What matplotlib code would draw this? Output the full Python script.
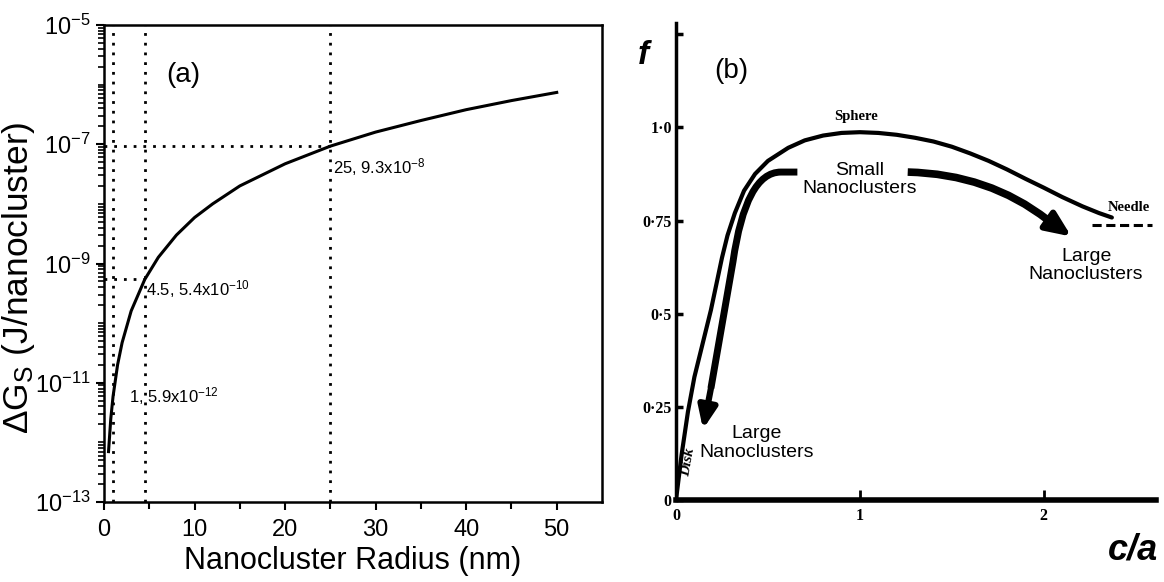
import math
import matplotlib
matplotlib.use("Agg")
import matplotlib.pyplot as plt
from matplotlib.path import Path
from matplotlib.patches import PathPatch
from matplotlib.ticker import FixedLocator, NullFormatter, FuncFormatter

sans = ["Liberation Sans", "DejaVu Sans"]
serif = ["Liberation Serif", "DejaVu Serif"]
plt.rcParams["font.family"] = sans
plt.rcParams["mathtext.fontset"] = "custom"
plt.rcParams["mathtext.rm"] = "Liberation Sans"
plt.rcParams["mathtext.it"] = "Liberation Sans"
plt.rcParams["mathtext.default"] = "regular"

# panel (a): surface free energy vs radius
radius = [0.5, 0.75, 1, 1.5, 2, 3, 4.5, 6, 8, 10, 12, 15, 20, 25, 30, 35, 40, 45, 50]
dG = [7.0e-13, 2.5e-12, 5.9e-12, 2.0e-11, 4.7e-11, 1.6e-10, 5.4e-10, 1.27e-9, 3.0e-9,
      5.9e-9, 1.0e-8, 2.0e-8, 4.7e-8, 9.3e-8, 1.6e-7, 2.5e-7, 3.8e-7, 5.4e-7, 7.4e-7]
marked_r = [1, 4.5, 25]
marked_g = [5.9e-12, 5.4e-10, 9.3e-8]
marked_txt = ["1, 5.9x10$^{-12}$", "4.5, 5.4x10$^{-10}$", "25, 9.3x10$^{-8}$"]

# panel (b): shape factor f vs c/a
ca = [0, 0.03, 0.065, 0.10, 0.15, 0.19, 0.22, 0.25, 0.28, 0.32, 0.37, 0.43, 0.50, 0.61,
      0.70, 0.80, 0.90, 1.0, 1.1, 1.2, 1.3, 1.4, 1.5, 1.6, 1.7, 1.8, 1.9, 2.0, 2.1, 2.21,
      2.30, 2.37]
f = [0, 0.12, 0.237, 0.33, 0.43, 0.51, 0.58, 0.65, 0.71, 0.77, 0.83, 0.875, 0.91, 0.945,
     0.965, 0.978, 0.985, 0.987, 0.985, 0.98, 0.972, 0.962, 0.948, 0.93, 0.91, 0.887,
     0.862, 0.838, 0.813, 0.788, 0.77, 0.758]
needle_ca = [2.26, 2.59]
needle_f = [0.737, 0.737]
# arrow paths: start, bend, control, end of body, head tip
arrow_small = [(0.66, 0.88), (0.57, 0.88), (0.38, 0.88), (0.31, 0.64), (0.19, 0.30)]
arrow_small_tip = (0.147, 0.19)
arrow_large = [(1.26, 0.88), (1.70, 0.875), (2.02, 0.752)]
arrow_large_tip = (2.15, 0.707)
f_ticks = [0, 0.25, 0.5, 0.75, 1.0, 1.25]
f_labels = ["0", "0·25", "0·5", "0·75", "1·0", ""]
ca_ticks = [0, 1, 2]

fig = plt.figure(figsize=(11.64, 5.82), dpi=100)

# ---------- (a) ----------
ax = fig.add_axes([104 / 1164, 1 - 502 / 582, (602 - 104) / 1164, (502 - 25) / 582])
ax.set_yscale("log")
ax.set_xlim(0, 55)
ax.set_ylim(1e-13, 1e-5)
ax.plot(radius, dG, color="black", lw=2.2)
dots = (0, (1, 2.5))
for r in marked_r:
    ax.plot([r, r], [1e-13, 1e-5], ls=dots, color="black", lw=2)
ax.plot([0, 25], [9.3e-8, 9.3e-8], ls=dots, color="black", lw=2)
ax.plot([0, 4.5], [5.4e-10, 5.4e-10], ls=dots, color="black", lw=2)
ax.text(25.3, 4.2e-8, marked_txt[2], fontsize=12, va="center")
ax.text(4.6, 3.8e-10, marked_txt[1], fontsize=12, va="center")
ax.text(2.8, 6.0e-12, marked_txt[0], fontsize=12, va="center")
ax.text(8.8, 1.45e-6, "(a)", fontsize=20, ha="center", va="center")

ax.xaxis.set_major_locator(FixedLocator([0, 10, 20, 30, 40, 50]))
ax.xaxis.set_minor_locator(FixedLocator([5, 15, 25, 35, 45]))
ax.yaxis.set_major_locator(FixedLocator([1e-13, 1e-11, 1e-9, 1e-7, 1e-5]))
minors = [m * 10.0 ** e for e in range(-13, -5) for m in range(1, 10) if e % 2 == 0 or m > 1]
ax.yaxis.set_minor_locator(FixedLocator(minors))
ax.yaxis.set_minor_formatter(NullFormatter())
ax.yaxis.set_major_formatter(FuncFormatter(lambda v, p: "10$^{%d}$" % round(math.log10(v))))
ax.tick_params(which="major", direction="out", length=6, width=1.5, labelsize=17)
ax.tick_params(axis="y", which="minor", direction="out", length=4, width=1.2)
ax.tick_params(axis="x", which="minor", direction="out", length=5, width=1.5)
ax.tick_params(axis="x", pad=6)
for s in ax.spines.values():
    s.set_linewidth(1.8)
fig.text(353 / 1164, 1 - 561 / 582, "Nanocluster Radius (nm)", fontsize=22,
         ha="center", va="center")
fig.text(19 / 1164, 1 - 278 / 582, r"$\Delta$G$_S$ (J/nanocluster)", fontsize=25.5,
         ha="center", va="center", rotation=90)

# ---------- (b) ----------
bx = fig.add_axes([676 / 1164, 1 - 500 / 582, (1156 - 676) / 1164, (500 - 23) / 582])
bx.set_xlim(0, 2.61)
bx.set_ylim(0, 1.28)
bx.spines["top"].set_visible(False)
bx.spines["right"].set_visible(False)
bx.spines["left"].set_linewidth(2.5)
bx.spines["bottom"].set_linewidth(4)
bx.plot(ca, f, color="black", lw=3, solid_capstyle="round")
bx.plot(needle_ca, needle_f, color="black", lw=2.2, ls=(0, (3, 1.5)))

head = dict(arrowstyle="-|>,head_length=1.3,head_width=0.55", color="black",
            lw=4.5, shrinkA=0, shrinkB=0)
p = Path(arrow_small, [Path.MOVETO, Path.LINETO, Path.CURVE3, Path.CURVE3, Path.LINETO])
bx.add_patch(PathPatch(p, fill=False, lw=5, color="black", capstyle="butt"))
bx.annotate("", xy=arrow_small_tip, xytext=arrow_small[-1], arrowprops=head)
p = Path(arrow_large, [Path.MOVETO, Path.CURVE3, Path.CURVE3])
bx.add_patch(PathPatch(p, fill=False, lw=5.5, color="black", capstyle="butt"))
bx.annotate("", xy=arrow_large_tip, xytext=arrow_large[-1],
            arrowprops=dict(head, arrowstyle="-|>,head_length=1.5,head_width=0.65"))

bx.text(1.0, 0.86, "Small\nNanoclusters", fontsize=14, ha="center", va="center", linespacing=1.1)
bx.text(2.23, 0.63, "Large\nNanoclusters", fontsize=14, ha="center", va="center", linespacing=1.1)
bx.text(0.44, 0.153, "Large\nNanoclusters", fontsize=14, ha="center", va="center", linespacing=1.1)
bx.text(0.30, 1.15, "(b)", fontsize=20, ha="center", va="center")
bx.text(0.98, 1.03, "Sphere", fontsize=10.5, ha="center", va="center", family=serif, weight="bold")
bx.text(2.46, 0.785, "Needle", fontsize=10.5, ha="center", va="center", family=serif, weight="bold")
bx.text(0.065, 0.10, "Disk", fontsize=11, ha="center", va="center", family=serif,
        weight="bold", style="italic", rotation=80)
fig.text(643 / 1164, 1 - 55 / 582, "f", fontsize=24, ha="center", va="center",
         weight="bold", style="italic")
fig.text(1158 / 1164, 1 - 550 / 582, "c/a", fontsize=26, ha="right", va="center",
         weight="bold", style="italic")

bx.set_yticks(f_ticks)
bx.set_yticklabels(f_labels, family=serif, weight="bold", fontsize=11.5)
bx.set_xticks(ca_ticks)
bx.set_xticklabels([str(t) for t in ca_ticks], family=serif, weight="bold", fontsize=11.5)
bx.tick_params(axis="y", direction="in", length=5, width=2.5, pad=3)
bx.tick_params(axis="x", direction="in", length=7, width=2, pad=6)

fig.savefig("out.png", dpi=100)
